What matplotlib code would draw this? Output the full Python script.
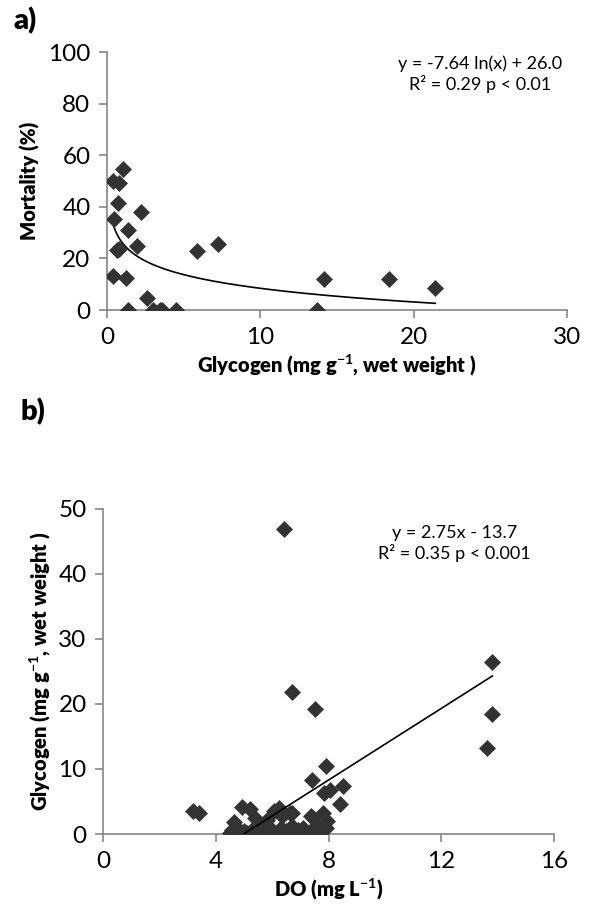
import numpy as np
import matplotlib
matplotlib.use("Agg")
import matplotlib.pyplot as plt

plt.rcParams['font.family'] = ['Lato', 'DejaVu Sans']
plt.rcParams['mathtext.fontset'] = 'custom'
plt.rcParams['mathtext.rm'] = 'Lato'
plt.rcParams['mathtext.bf'] = 'Lato:bold'

# panel a: glycogen vs mortality
glyc_a = [1.02, 0.41, 0.76, 0.72, 2.2, 0.46, 1.33, 1.94, 0.65, 0.8, 5.85, 0.41, 1.24,
          2.59, 1.35, 3.02, 3.46, 3.57, 4.48, 7.22, 14.15, 18.4, 21.4, 13.7]
mort_a = [54.6, 50.1, 49.3, 41.7, 37.9, 35.3, 31.0, 24.8, 23.3, 23.5, 22.9, 13.2, 12.5,
          4.5, 0, 0, 0, 0, 0, 25.6, 12.0, 12.0, 8.4, 0]
fit_a = (-7.64, 26.0)

# panel b: DO vs glycogen
do_b = [6.43, 6.71, 7.51, 13.82, 13.82, 13.62, 7.91, 7.42, 8.5, 7.83, 8.04, 8.42, 7.8,
        7.95, 7.9, 7.44, 6.7, 3.2, 3.4, 4.93, 4.63, 4.57, 5.4, 5.75, 6.23, 6.35, 6.64,
        7.36, 4.5, 5.0, 5.35, 5.7, 6.0, 6.3, 6.7, 6.9, 7.1, 7.4, 7.6, 7.7, 6.2, 5.6, 5.1,
        6.6, 7.1, 5.4, 5.8, 6.05, 5.2, 4.8, 6.5]
glyc_b = [46.9, 21.8, 19.2, 26.5, 18.4, 13.3, 10.5, 8.3, 7.4, 6.3, 6.8, 4.6, 3.2,
          2.0, 1.0, 2.5, 3.2, 3.6, 3.2, 4.2, 1.9, 0.6, 2.4, 1.6, 4.0, 2.7, 3.2,
          2.7, 0.2, 0.4, 0.4, 0.9, 0.6, 0.9, 1.2, 0.6, 0.9, 0.6, 1.4, 0.4, 0.1, 0.1, 0.1,
          0.1, 0.1, 1.1, 2.1, 3.5, 3.8, 0.8, 0.5]
fit_b = (2.75, -13.7)

gray = '#868686'
mk = '#333333'

fig = plt.figure(figsize=(5.92, 9.11), dpi=100)
ax1 = fig.add_axes([0.181, 0.6597, 0.777, 0.283])
ax2 = fig.add_axes([0.1745, 0.0845, 0.761, 0.357])

for ax in (ax1, ax2):
    for s in ('top', 'right'):
        ax.spines[s].set_visible(False)
    for s in ('left', 'bottom'):
        ax.spines[s].set_color(gray)
        ax.spines[s].set_linewidth(1.2)
    ax.tick_params(direction='out', color=gray, length=6, width=1.2,
                   labelsize=17.5, pad=6)

# a
ax1.scatter(glyc_a, mort_a, marker='D', s=75, color=mk, zorder=3, linewidths=0)
xa = np.linspace(min(glyc_a), max(glyc_a), 200)
ax1.plot(xa, fit_a[0] * np.log(xa) + fit_a[1], color='black', lw=1.2)
ax1.set_xlim(0, 30)
ax1.set_ylim(0, 100)
ax1.set_xticks([0, 10, 20, 30])
ax1.set_yticks([0, 20, 40, 60, 80, 100])
ax1.set_ylabel('Mortality (%)', fontsize=14.5, fontweight='heavy', labelpad=6)
ax1.set_xlabel(r'Glycogen (mg g$^{\mathbf{-1}}$, wet weight )', fontsize=14.5,
               fontweight='heavy', labelpad=4)
ax1.text(0.81, 0.955, 'y = -7.64 ln(x) + 26.0', transform=ax1.transAxes,
         ha='center', va='center', fontsize=13)
ax1.text(0.81, 0.875, 'R² = 0.29 p < 0.01', transform=ax1.transAxes,
         ha='center', va='center', fontsize=13)
fig.text(0.022, 0.977, 'a)', fontsize=21, fontweight='heavy', va='center')

# b
ax2.scatter(do_b, glyc_b, marker='D', s=75, color=mk, zorder=3, linewidths=0)
xb = np.linspace(min(do_b), max(do_b), 50)
ax2.plot(xb, fit_b[0] * xb + fit_b[1], color='black', lw=1.2, zorder=4)
ax2.set_xlim(0, 16)
ax2.set_ylim(0, 50)
ax2.set_xticks([0, 4, 8, 12, 16])
ax2.set_yticks([0, 10, 20, 30, 40, 50])
ax2.set_ylabel(r'Glycogen (mg g$^{\mathbf{-1}}$, wet weight )', fontsize=14.5,
               fontweight='heavy')
ax2.set_xlabel(r'DO (mg L$^{\mathbf{-1}}$)', fontsize=14.5, fontweight='heavy', labelpad=4)
ax2.text(0.78, 0.925, 'y = 2.75x - 13.7', transform=ax2.transAxes,
         ha='center', va='center', fontsize=13)
ax2.text(0.78, 0.865, 'R² = 0.35 p < 0.001', transform=ax2.transAxes,
         ha='center', va='center', fontsize=13)
fig.text(0.035, 0.548, 'b)', fontsize=21, fontweight='heavy', va='center')

fig.savefig('out.png', dpi=100)
